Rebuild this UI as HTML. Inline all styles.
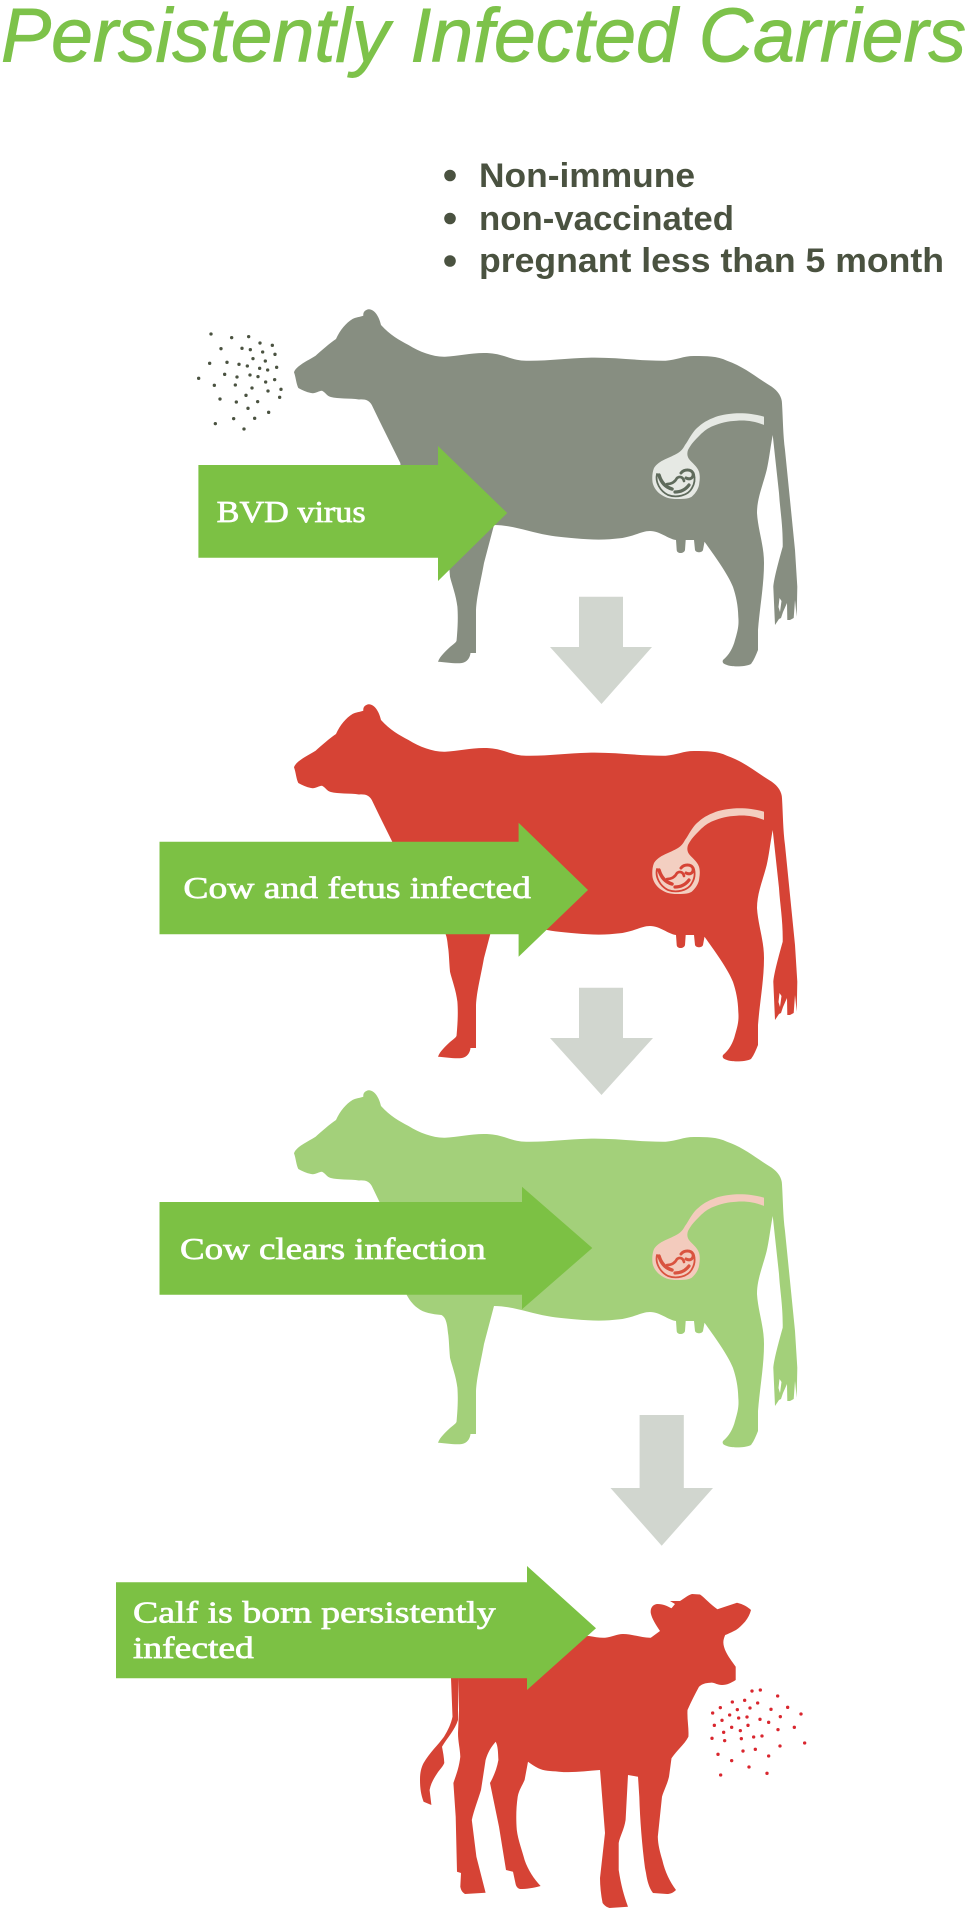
<!DOCTYPE html>
<html lang="en">
<head>
<meta charset="utf-8">
<title>Persistently Infected Carriers</title>
<style>
html,body{margin:0;padding:0;background:#fff;width:967px;height:1908px;overflow:hidden}
svg{display:block}
.t{font-family:"Liberation Sans",sans-serif;font-style:italic;fill:#7dc24a;stroke:#7dc24a;stroke-width:.9}
.b{font-family:"Liberation Sans",sans-serif;font-weight:bold;fill:#4a5240}
.l{font-family:"Liberation Serif",serif;fill:#fff;stroke:#fff;stroke-width:.7}
</style>
</head>
<body>
<svg xmlns="http://www.w3.org/2000/svg" width="967" height="1908" viewBox="0 0 967 1908">
<defs>
<path id="cow" fill-rule="evenodd" d="M368.6 309.3C374 309 379 316 381 325C390 335 399 340 408.5 345C420 352 433 357 445 356.7C460 356 475 352 490 353.3C503 354 513 361 527 360.7C548 361 568 358 588 357.7C615 357 640 361 665.6 360.7C677 360 683 356 694 356C707 356 717 356 727 360.7C745 367 757 378 771.8 386.7C778 391 782 397 782 403.3C783 420 783 435 785 450L790 500L795 550L797.3 586.7L796.7 616.7L795 600L793.7 618L790 620L787.3 620L787 603L783 612L781 618L779 619L777 622L775 625L773.3 586.7C774 578 779 560 782.7 546.7C783 525 780 510 779 493L772.7 435C770 450 769 460 766.7 470C763 485 757 498 757 513C758 530 764 545 764 563C764 585 760 605 758 630L758 650C756 655 754 660 751 664C745 667 732 667 727 665C723 664 722 662 723 660C729 655 733 648 735 640C738 630 739 625 738.3 616.7C738 605 736 596 733 587C728 574 714 555 704.5 541.7L703 550C702 553 696 553 695 550L694 540L685.7 540L685 550C684 554 677 554 676.7 550L676 540C668 539 660 531 650 531C642 531 635 536 620 538.3C610 539.5 600 540 588 539.3C570 538 558 537 547 535C530 532 512 525 494 525L484 563C480 585 477 595 476 610L476 653L470.5 653C470 658 467 662 462 663C455 664 445 662 438 661.7C440 656 446 651 450 647C455 643 456.6 642 456.6 640C458 625 458 615 457.4 606.7C456 595 452 585 450 576.7C449 565 449 558 448 552C447 540 445 536 441.4 534C432 533 424 532 417.6 527C412 523 409 518 406.7 514C404 495 402 478 400.3 463L379.4 420.7L371.8 405C369 400 365 399 359 399.5C350 398 338 399 330.8 397C327 396 325 392 322 390.7C318 391 315 394 311 393C306 392 302 390 298.3 388C296 383 296 378 294 372.3C296 366 307 361 315.6 355.7C322 350 330 343 336 339C340 330 346 323 352.5 319C356 317 360 317 363.3 315.7C363 312 365 310 368.6 309.3ZM779.5 598L781.5 601L780 612L778.5 607Z"/>
<path id="tube" d="M764 416.7C755 414 745 413 736.7 413.3C727 414 720 415 713 418C705 421 700 425 695 430C690 436 688 441 685 445C683 449 681 451 678 453C670 458 659 460 654 468C652 473 652 479 652.7 483C654 488 657 492 661.7 495C666 498 671 499 676.7 499C682 499 688 499 691.7 496.7C696 493 699 488 699.3 483C700 479 700 475 699 471.7C697 466 692 463 689 459C687 456 687 453 688 450C691 444 695 440 700 435C704 431 708 428 713 426C720 423 728 421 736.7 420.7C745 420 755 421 764 425Z"/>
<g id="fetus" fill="none" stroke-linecap="round" stroke-linejoin="round">
<path stroke-width="1.8" d="M657 474C655 482 660 491 668 495C676 498 688 496 692 488C695 483 695 478 694 474"/>
<path stroke-width="3.5" d="M659 475C661 482 665 487 672 489"/>
<path stroke-width="3.2" d="M675 492C681 492 686 489 689 485"/>
<path stroke-width="2.6" d="M667 484C672 484 675 482 677 478C680 476 683 477 684 481"/>
<path stroke-width="3" d="M681 473C684 469 691 469 693 473C694 478 690 480 686 478"/>
</g>
</defs>

<text class="t" x="1" y="61.5" font-size="76" textLength="965" lengthAdjust="spacingAndGlyphs">Persistently Infected Carriers</text>

<g fill="#4a5240">
<circle cx="450" cy="175.5" r="5.8"/><circle cx="450" cy="218.5" r="5.8"/><circle cx="450" cy="261" r="5.8"/>
</g>
<text class="b" x="479" y="187" font-size="34" textLength="216" lengthAdjust="spacingAndGlyphs">Non-immune</text>
<text class="b" x="479" y="230" font-size="34" textLength="255" lengthAdjust="spacingAndGlyphs">non-vaccinated</text>
<text class="b" x="479" y="272" font-size="34" textLength="465" lengthAdjust="spacingAndGlyphs">pregnant less than 5 month</text>

<!-- dark dots -->
<g fill="#4a5240" transform="translate(190 320) scale(.3333)">
<circle cx="63" cy="42" r="5"/><circle cx="125" cy="53" r="5"/><circle cx="176" cy="50" r="5"/><circle cx="210" cy="69" r="5"/><circle cx="247" cy="76" r="5"/><circle cx="93" cy="86" r="5"/><circle cx="156" cy="85" r="5"/><circle cx="181" cy="89" r="5"/><circle cx="218" cy="96" r="5"/><circle cx="255" cy="103" r="5"/><circle cx="189" cy="116" r="5"/><circle cx="226" cy="123" r="5"/><circle cx="59" cy="130" r="5"/><circle cx="111" cy="127" r="5"/><circle cx="147" cy="133" r="5"/><circle cx="172" cy="138" r="5"/><circle cx="209" cy="145" r="5"/><circle cx="233" cy="150" r="5"/><circle cx="260" cy="142" r="5"/><circle cx="104" cy="163" r="5"/><circle cx="141" cy="171" r="5"/><circle cx="180" cy="165" r="5"/><circle cx="204" cy="170" r="5"/><circle cx="254" cy="179" r="5"/><circle cx="227" cy="186" r="5"/><circle cx="26" cy="175" r="5"/><circle cx="73" cy="196" r="5"/><circle cx="136" cy="195" r="5"/><circle cx="186" cy="204" r="5"/><circle cx="234" cy="213" r="5"/><circle cx="273" cy="208" r="5"/><circle cx="168" cy="226" r="5"/><circle cx="269" cy="232" r="5"/><circle cx="90" cy="237" r="5"/><circle cx="139" cy="246" r="5"/><circle cx="203" cy="245" r="5"/><circle cx="174" cy="265" r="5"/><circle cx="236" cy="277" r="5"/><circle cx="131" cy="296" r="5"/><circle cx="194" cy="295" r="5"/><circle cx="76" cy="311" r="5"/><circle cx="162" cy="327" r="5"/>
</g>

<!-- cow 1 gray -->
<use href="#cow" fill="#878e81"/>
<use href="#tube" fill="#e6e9e4"/>
<use href="#fetus" stroke="#5f6b5c"/>

<!-- cow 2 red -->
<g transform="translate(0 395)">
<use href="#cow" fill="#d64335"/>
<use href="#tube" fill="#f3cfc1"/>
<use href="#fetus" stroke="#d64335"/>
</g>

<!-- cow 3 pale green -->
<g transform="translate(0 781)">
<use href="#cow" fill="#a3d07a"/>
<use href="#tube" fill="#f3cbbd"/>
<use href="#fetus" stroke="#d9533f"/>
</g>

<!-- calf -->
<path fill="#d64335" d="M470 1640L589 1636C595 1637 600 1638 605 1637.7C612 1637 617 1634 623 1634C632 1634 642 1638 650.8 1637.7L660 1631C656 1625 652 1619 650.8 1613.3C650 1608 653 1604 657.7 1604C663 1604 667 1606 671.5 1608.3L675 1604L670 1601L680 1601C685 1598 688 1595 692 1594L700 1594.5C705 1598 710 1604 717.4 1609.3L737 1602.7C743 1604 748 1607 751 1610C750 1614 748 1618 745 1621.7C742 1625 739 1628 736 1630C732 1632 728 1634 725.2 1635C723 1640 723 1643 724 1646.7C726 1654 731 1660 735.7 1666.7L735.7 1680C731 1683 727 1685 722 1685C717 1685 714 1682 710.5 1682.7C705 1683 702 1684 699 1686.7C695 1694 691 1702 687.5 1710C687 1720 689 1728 688.4 1736.7C684 1745 677 1750 671.5 1758.3L669 1776.7C667 1785 664 1790 662 1796.7L657.8 1836.7C658 1845 660 1852 662.3 1860C665 1872 670 1882 676 1890C673 1893 670 1894 667 1894L653 1893C649 1888 647 1880 646 1873L645 1868C642 1845 640 1820 639.3 1796.7L638 1776.7L628 1775L625.6 1820C624 1830 620 1836 618.7 1843L618.7 1870C621 1885 624 1896 628 1906.7L609.5 1908C606 1907 604 1905 602.6 1903C601 1895 600 1886 600 1878L605 1833L600 1770C586 1771 572 1773 559 1771.7C550 1771 544 1771 538.3 1768.3C534 1766 531 1764 528 1761.7L524.6 1780C522 1786 519 1790 517.7 1796.7C516 1808 516 1820 516.8 1830C518 1840 522 1850 524.6 1860C528 1870 534 1879 540.6 1886C533 1888 527 1889 520 1889C517 1888 516 1886 515.4 1883L513 1871.7L506 1870L499 1826.7L490 1783C494 1776 497 1768 498.4 1760C498 1752 498 1746 495.7 1741.7C491 1747 488 1752 485.6 1760L481 1790C478 1800 474 1810 471.8 1820L476.4 1856.7L485.6 1892.7L465 1894C462 1892 461 1890 460.3 1886.7L461 1873L457 1871.7L455.7 1816.7L453.4 1783C456 1775 459 1768 460.3 1756.7C460 1748 458 1742 458 1733L459 1710L458 1678L458 1720C455 1730 447 1738 442 1746.7C443 1752 444 1757 444.3 1763C442 1768 440 1769 437.4 1773C434 1778 431 1783 429.6 1790L431.4 1805L423.6 1801.7C421 1795 420 1788 420 1780C420 1773 421 1768 423.6 1763C430 1752 438 1745 444 1736.7C448 1730 451 1724 452.5 1716.7L451 1678L470 1640Z"/>

<!-- red dots -->
<g fill="#d9262e" transform="translate(700 1670) scale(.3333)">
<circle cx="156" cy="63" r="5"/><circle cx="181" cy="60" r="5"/><circle cx="233" cy="78" r="5"/><circle cx="97" cy="96" r="5"/><circle cx="134" cy="91" r="5"/><circle cx="173" cy="99" r="5"/><circle cx="263" cy="112" r="5"/><circle cx="61" cy="113" r="5"/><circle cx="112" cy="119" r="5"/><circle cx="150" cy="114" r="5"/><circle cx="213" cy="118" r="5"/><circle cx="38" cy="129" r="5"/><circle cx="89" cy="135" r="5"/><circle cx="303" cy="132" r="5"/><circle cx="116" cy="144" r="5"/><circle cx="141" cy="141" r="5"/><circle cx="241" cy="140" r="5"/><circle cx="66" cy="151" r="5"/><circle cx="180" cy="148" r="5"/><circle cx="206" cy="157" r="5"/><circle cx="43" cy="166" r="5"/><circle cx="144" cy="166" r="5"/><circle cx="95" cy="172" r="5"/><circle cx="283" cy="172" r="5"/><circle cx="121" cy="182" r="5"/><circle cx="234" cy="179" r="5"/><circle cx="71" cy="187" r="5"/><circle cx="36" cy="205" r="5"/><circle cx="161" cy="201" r="5"/><circle cx="186" cy="198" r="5"/><circle cx="124" cy="206" r="5"/><circle cx="74" cy="212" r="5"/><circle cx="314" cy="219" r="5"/><circle cx="240" cy="228" r="5"/><circle cx="166" cy="238" r="5"/><circle cx="129" cy="243" r="5"/><circle cx="54" cy="253" r="5"/><circle cx="206" cy="258" r="5"/><circle cx="95" cy="272" r="5"/><circle cx="147" cy="291" r="5"/><circle cx="62" cy="315" r="5"/><circle cx="201" cy="310" r="5"/>
</g>

<!-- down arrows -->
<g fill="#d1d6cf">
<polygon points="579,596.7 623,596.7 623,647 652,647 601.5,704 550,647 579,647"/>
<polygon points="579,987.7 623,987.7 623,1038 653,1038 601.5,1095 550,1038 579,1038"/>
<polygon points="639.6,1415 683.8,1415 683.8,1488 713,1488 661.7,1545.7 610.5,1488 639.6,1488"/>
</g>

<!-- green arrows -->
<g fill="#7cc144">
<polygon points="198.4,465 438,465 438,446 507.2,513 438,581 438,557.7 198.4,557.7"/>
<polygon points="159.5,841.7 518.6,841.7 518.6,822.7 588,890 518.6,956.7 518.6,934.3 159.5,934.3"/>
<polygon points="159.5,1202 522,1202 522,1186.7 592.3,1248 522,1309.3 522,1294.7 159.5,1294.7"/>
<polygon points="116,1582.3 527,1582.3 527,1566 596,1628.3 527,1690 527,1678.3 116,1678.3"/>
</g>

<text class="l" x="216.7" y="522" font-size="31" textLength="149" lengthAdjust="spacingAndGlyphs">BVD virus</text>
<text class="l" x="183.4" y="898" font-size="31" textLength="347.6" lengthAdjust="spacingAndGlyphs">Cow and fetus infected</text>
<text class="l" x="180" y="1259" font-size="31" textLength="305.7" lengthAdjust="spacingAndGlyphs">Cow clears infection</text>
<text class="l" x="133" y="1622.7" font-size="31" textLength="362.7" lengthAdjust="spacingAndGlyphs">Calf is born persistently</text>
<text class="l" x="133" y="1658" font-size="31" textLength="120.8" lengthAdjust="spacingAndGlyphs">infected</text>
</svg>
</body>
</html>
